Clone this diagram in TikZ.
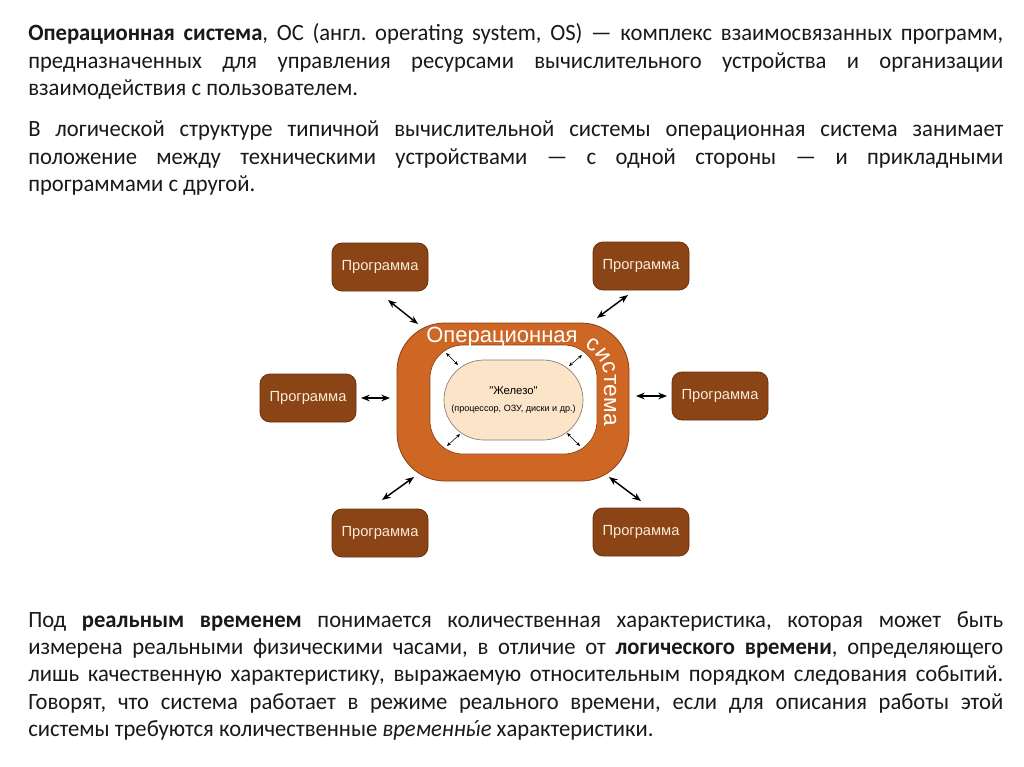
\documentclass[tikz,border=0pt]{standalone}
\usepackage{fontspec}
\setmainfont{Carlito}[FakeStretch=0.97]
\newfontfamily\arialf{Liberation Sans}
\usetikzlibrary{arrows.meta,shapes.misc,decorations.text}
\definecolor{progfill}{RGB}{138,68,22}
\definecolor{progdraw}{RGB}{105,48,14}
\definecolor{progtext}{RGB}{250,236,218}
\definecolor{ringfill}{RGB}{206,102,36}
\definecolor{ringdraw}{RGB}{140,62,20}
\definecolor{hwfill}{RGB}{252,228,200}
\definecolor{hwdraw}{RGB}{135,125,115}
\definecolor{bodytext}{RGB}{25,25,25}
\newcommand\ringfont{\arialf\fontsize{16.5}{18}\selectfont}
\newcommand\ringfontb{\arialf\fontsize{17}{19}\selectfont}
\newcommand\bodyfont{\fontsize{17.5}{20.6}\selectfont\frenchspacing}
\newcommand\yacute{{\setbox0\hbox{ы}\rlap{\hbox to\wd0{\hss\kern2.5pt ´\hss}}\box0}}
\begin{document}
\begin{tikzpicture}[x=0.75pt,y=-0.75pt,
  prog/.style={rectangle, rounded corners=7.5pt, fill=progfill, draw=progdraw,
    line width=0.6pt, minimum width=72pt, minimum height=36pt, inner sep=0,
    text=progtext, font=\arialf\fontsize{11}{12}\selectfont},
  para/.style={anchor=base west, inner sep=0, text=bodytext},
  big/.style={{Stealth[length=6.5pt,width=5pt]}-{Stealth[length=6.5pt,width=5pt]}, line width=1.1pt, black},
  small/.style={{Stealth[length=3pt,width=2.4pt]}-{Stealth[length=3pt,width=2.4pt]}, line width=0.4pt, black}]
\useasboundingbox[fill=white] (0,0) rectangle (1024,767);

% paragraphs
\node[para] (t1) at (28,41) {\parbox[t]{731.25pt}{\bodyfont
\textbf{Операционная система}, ОС (англ. operating system, OS) — комплекс взаимосвязанных программ,\linebreak
предназначенных для управления ресурсами вычислительного устройства и организации\linebreak
взаимодействия с пользователем.}};
\node[para] (t2) at (28,137) {\parbox[t]{731.25pt}{\bodyfont
В логической структуре типичной вычислительной системы операционная система занимает\linebreak
положение между техническими устройствами — с одной стороны — и прикладными\linebreak
программами с другой.}};
\node[para] (t3) at (28,627) {\parbox[t]{731.25pt}{\bodyfont
Под \textbf{реальным временем} понимается количественная характеристика, которая может быть\linebreak
измерена реальными физическими часами, в отличие от \textbf{логического времени}, определяющего\linebreak
лишь качественную характеристику, выражаемую относительным порядком следования событий.\linebreak
Говорят, что система работает в режиме реального времени, если для описания работы этой\linebreak
системы требуются количественные \textit{временн\yacute е} характеристики.}};

% OS ring
\node[draw=ringdraw, fill=ringfill, line width=0.6pt, rounded corners=36pt,
  minimum width=174pt, minimum height=118.5pt, inner sep=0] (os) at (513,402) {};
\node[draw=ringdraw, fill=white, line width=0.5pt, rounded corners=25pt,
  minimum width=125.25pt, minimum height=81.75pt, inner sep=0] (hole) at (513.5,399.5) {};
\node[rounded rectangle, draw=hwdraw, fill=hwfill, line width=0.5pt,
  minimum width=104.25pt, minimum height=60pt, inner sep=0, align=center,
  font=\arialf] (hw) at (513.5,400)
  {{\fontsize{8.5}{10}\selectfont "Железо"}\\[1pt]{\fontsize{6.8}{8}\selectfont (процессор, ОЗУ, диски и др.)}};

\node[anchor=base west, inner sep=0, text=white, font=\ringfont] (ostitle) at (426,342) {Операционная};
\path[decorate, decoration={text along path, text color=white,
  text={|\ringfontb|система}, text align={left indent=11pt}}]
  (570,344) arc[start angle=-90, end angle=0, radius=34] -- (604,445);

% programs
\node[prog] (pr1) at (380,267) {Программа};
\node[prog] (pr2) at (641,266) {Программа};
\node[prog] (pr3) at (308,398) {Программа};
\node[prog] (pr4) at (720,396) {Программа};
\node[prog] (pr5) at (380,533) {Программа};
\node[prog] (pr6) at (641,532) {Программа};

% arrow ends
\coordinate (a1s) at (388,300); \coordinate (a1e) at (418,324);
\coordinate (a2s) at (628,295); \coordinate (a2e) at (597,318);
\coordinate (a3s) at (361,398); \coordinate (a3e) at (390,398);
\coordinate (a4s) at (636,396); \coordinate (a4e) at (667,396);
\coordinate (a5s) at (414,477); \coordinate (a5e) at (382,500);
\coordinate (a6s) at (609,477); \coordinate (a6e) at (641,501);
\draw[big] (a1s) -- (a1e);
\draw[big] (a2s) -- (a2e);
\draw[big] (a3s) -- (a3e);
\draw[big] (a4s) -- (a4e);
\draw[big] (a5s) -- (a5e);
\draw[big] (a6s) -- (a6e);

\coordinate (b1s) at (446,353); \coordinate (b1e) at (458,365);
\coordinate (b2s) at (569,366); \coordinate (b2e) at (582,355);
\coordinate (b3s) at (447,446); \coordinate (b3e) at (460,434);
\coordinate (b4s) at (567,433); \coordinate (b4e) at (580,446);
\draw[small] (b1s) -- (b1e);
\draw[small] (b2s) -- (b2e);
\draw[small] (b3s) -- (b3e);
\draw[small] (b4s) -- (b4e);
\end{tikzpicture}
\end{document}
